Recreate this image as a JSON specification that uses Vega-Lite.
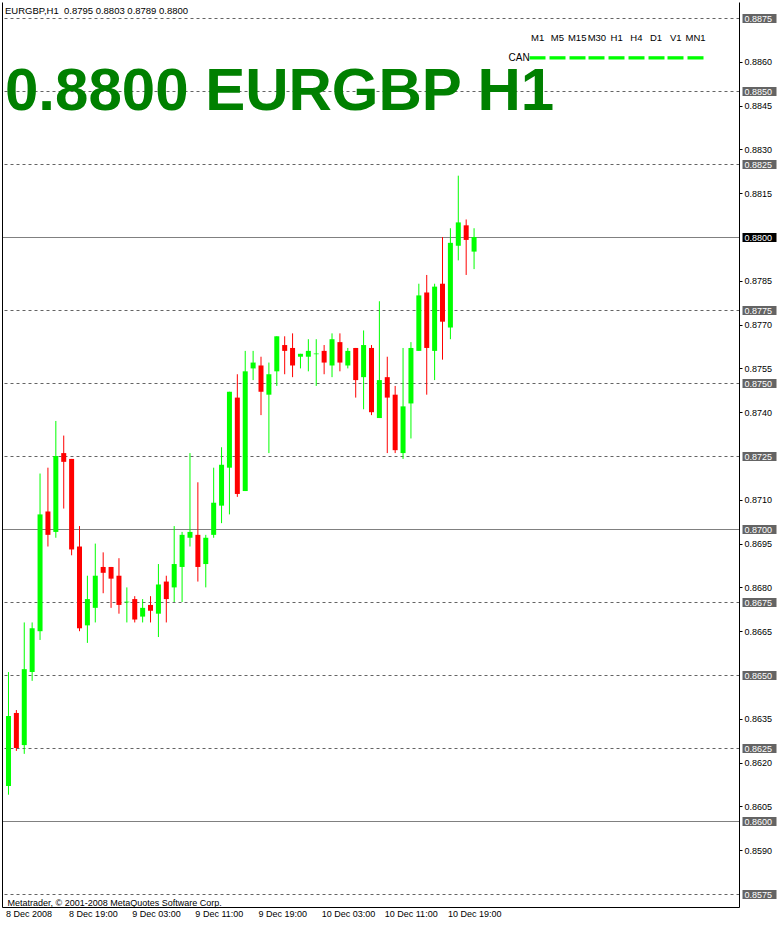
{
  "$schema": "https://vega.github.io/schema/vega-lite/v6.json",
  "width": 737,
  "height": 905,
  "autosize": {"type": "none"},
  "padding": {"left": 2, "top": 2, "right": 38, "bottom": 19},
  "background": "white",
  "config": {"view": {"stroke": null}, "font": "Liberation Sans"},
  "title": {
    "text": "EURGBP,H1\u00a0 0.8795 0.8803 0.8789 0.8800",
    "subtitle": "0.8800 EURGBP H1",
    "anchor": "start",
    "frame": "group",
    "orient": "top",
    "offset": -120,
    "dx": 3,
    "font": "Liberation Sans",
    "fontSize": 9.5,
    "fontWeight": "normal",
    "color": "black",
    "subtitleFont": "Liberation Sans",
    "subtitleFontSize": 60,
    "subtitleFontWeight": "bold",
    "subtitleColor": "#008000",
    "subtitlePadding": 48
  },
  "data": {"values": [
    {"t": "2008-12-08T11:00:00Z", "o": 0.8612, "h": 0.8651, "l": 0.8609, "c": 0.8636},
    {"t": "2008-12-08T12:00:00Z", "o": 0.8637, "h": 0.8638, "l": 0.8624, "c": 0.8625},
    {"t": "2008-12-08T13:00:00Z", "o": 0.8626, "h": 0.8668, "l": 0.8623, "c": 0.8652},
    {"t": "2008-12-08T14:00:00Z", "o": 0.8651, "h": 0.8668, "l": 0.8648, "c": 0.8666},
    {"t": "2008-12-08T15:00:00Z", "o": 0.8665, "h": 0.8719, "l": 0.8662, "c": 0.8705},
    {"t": "2008-12-08T16:00:00Z", "o": 0.8706, "h": 0.8721, "l": 0.8694, "c": 0.8698},
    {"t": "2008-12-08T17:00:00Z", "o": 0.8699, "h": 0.8737, "l": 0.8697, "c": 0.8725},
    {"t": "2008-12-08T18:00:00Z", "o": 0.8726, "h": 0.8732, "l": 0.8707, "c": 0.8723},
    {"t": "2008-12-08T19:00:00Z", "o": 0.8724, "h": 0.8724, "l": 0.8691, "c": 0.8693},
    {"t": "2008-12-08T20:00:00Z", "o": 0.8694, "h": 0.8701, "l": 0.8665, "c": 0.8666},
    {"t": "2008-12-08T21:00:00Z", "o": 0.8667, "h": 0.8684, "l": 0.8661, "c": 0.8676},
    {"t": "2008-12-08T22:00:00Z", "o": 0.8673, "h": 0.8695, "l": 0.8668, "c": 0.8684},
    {"t": "2008-12-08T23:00:00Z", "o": 0.8687, "h": 0.8692, "l": 0.8678, "c": 0.8685},
    {"t": "2008-12-09T00:00:00Z", "o": 0.8687, "h": 0.8687, "l": 0.8673, "c": 0.8683},
    {"t": "2008-12-09T01:00:00Z", "o": 0.8684, "h": 0.8690, "l": 0.8671, "c": 0.8674},
    {"t": "2008-12-09T02:00:00Z", "o": 0.8675, "h": 0.8680, "l": 0.8668, "c": 0.8675},
    {"t": "2008-12-09T03:00:00Z", "o": 0.8676, "h": 0.8677, "l": 0.8668, "c": 0.8669},
    {"t": "2008-12-09T04:00:00Z", "o": 0.8670, "h": 0.8676, "l": 0.8668, "c": 0.8673},
    {"t": "2008-12-09T05:00:00Z", "o": 0.8674, "h": 0.8677, "l": 0.8668, "c": 0.8672},
    {"t": "2008-12-09T06:00:00Z", "o": 0.8671, "h": 0.8688, "l": 0.8663, "c": 0.8681},
    {"t": "2008-12-09T07:00:00Z", "o": 0.8682, "h": 0.8684, "l": 0.8668, "c": 0.8676},
    {"t": "2008-12-09T08:00:00Z", "o": 0.8680, "h": 0.8701, "l": 0.8675, "c": 0.8688},
    {"t": "2008-12-09T09:00:00Z", "o": 0.8687, "h": 0.8699, "l": 0.8675, "c": 0.8698},
    {"t": "2008-12-09T10:00:00Z", "o": 0.8697, "h": 0.8726, "l": 0.8694, "c": 0.8699},
    {"t": "2008-12-09T11:00:00Z", "o": 0.8698, "h": 0.8716, "l": 0.8682, "c": 0.8687},
    {"t": "2008-12-09T12:00:00Z", "o": 0.8688, "h": 0.8698, "l": 0.8680, "c": 0.8697},
    {"t": "2008-12-09T13:00:00Z", "o": 0.8698, "h": 0.8721, "l": 0.8697, "c": 0.8709},
    {"t": "2008-12-09T14:00:00Z", "o": 0.8708, "h": 0.8728, "l": 0.8702, "c": 0.8722},
    {"t": "2008-12-09T15:00:00Z", "o": 0.8721, "h": 0.8747, "l": 0.8705, "c": 0.8747},
    {"t": "2008-12-09T16:00:00Z", "o": 0.8745, "h": 0.8753, "l": 0.8711, "c": 0.8712},
    {"t": "2008-12-09T17:00:00Z", "o": 0.8713, "h": 0.8761, "l": 0.8713, "c": 0.8754},
    {"t": "2008-12-09T18:00:00Z", "o": 0.8755, "h": 0.8761, "l": 0.8751, "c": 0.8757},
    {"t": "2008-12-09T19:00:00Z", "o": 0.8756, "h": 0.8759, "l": 0.8739, "c": 0.8747},
    {"t": "2008-12-09T20:00:00Z", "o": 0.8746, "h": 0.8757, "l": 0.8726, "c": 0.8753},
    {"t": "2008-12-09T21:00:00Z", "o": 0.8754, "h": 0.8766, "l": 0.8749, "c": 0.8766},
    {"t": "2008-12-09T22:00:00Z", "o": 0.8763, "h": 0.8766, "l": 0.8753, "c": 0.8761},
    {"t": "2008-12-09T23:00:00Z", "o": 0.8762, "h": 0.8767, "l": 0.8752, "c": 0.8756},
    {"t": "2008-12-10T00:00:00Z", "o": 0.8759, "h": 0.8760, "l": 0.8755, "c": 0.8760},
    {"t": "2008-12-10T01:00:00Z", "o": 0.8759, "h": 0.8765, "l": 0.8754, "c": 0.8761},
    {"t": "2008-12-10T02:00:00Z", "o": 0.8760, "h": 0.8765, "l": 0.8749, "c": 0.8760},
    {"t": "2008-12-10T03:00:00Z", "o": 0.8761, "h": 0.8763, "l": 0.8753, "c": 0.8757},
    {"t": "2008-12-10T04:00:00Z", "o": 0.8756, "h": 0.8767, "l": 0.8752, "c": 0.8765},
    {"t": "2008-12-10T05:00:00Z", "o": 0.8764, "h": 0.8767, "l": 0.8754, "c": 0.8757},
    {"t": "2008-12-10T06:00:00Z", "o": 0.8756, "h": 0.8762, "l": 0.8755, "c": 0.8761},
    {"t": "2008-12-10T07:00:00Z", "o": 0.8762, "h": 0.8762, "l": 0.8745, "c": 0.8751},
    {"t": "2008-12-10T08:00:00Z", "o": 0.8752, "h": 0.8768, "l": 0.8741, "c": 0.8763},
    {"t": "2008-12-10T09:00:00Z", "o": 0.8762, "h": 0.8763, "l": 0.8739, "c": 0.8740},
    {"t": "2008-12-10T10:00:00Z", "o": 0.8738, "h": 0.8778, "l": 0.8738, "c": 0.8751},
    {"t": "2008-12-10T11:00:00Z", "o": 0.8752, "h": 0.8759, "l": 0.8726, "c": 0.8745},
    {"t": "2008-12-10T12:00:00Z", "o": 0.8746, "h": 0.8749, "l": 0.8726, "c": 0.8727},
    {"t": "2008-12-10T13:00:00Z", "o": 0.8726, "h": 0.8762, "l": 0.8724, "c": 0.8742},
    {"t": "2008-12-10T14:00:00Z", "o": 0.8743, "h": 0.8764, "l": 0.8731, "c": 0.8762},
    {"t": "2008-12-10T15:00:00Z", "o": 0.8761, "h": 0.8784, "l": 0.8761, "c": 0.8780},
    {"t": "2008-12-10T16:00:00Z", "o": 0.8781, "h": 0.8787, "l": 0.8746, "c": 0.8762},
    {"t": "2008-12-10T17:00:00Z", "o": 0.8761, "h": 0.8784, "l": 0.8751, "c": 0.8783},
    {"t": "2008-12-10T18:00:00Z", "o": 0.8784, "h": 0.8800, "l": 0.8758, "c": 0.8771},
    {"t": "2008-12-10T19:00:00Z", "o": 0.8769, "h": 0.8803, "l": 0.8765, "c": 0.8798},
    {"t": "2008-12-10T20:00:00Z", "o": 0.8797, "h": 0.8821, "l": 0.8792, "c": 0.8805},
    {"t": "2008-12-10T21:00:00Z", "o": 0.8804, "h": 0.8806, "l": 0.8787, "c": 0.8799},
    {"t": "2008-12-10T22:00:00Z", "o": 0.8795, "h": 0.8803, "l": 0.8789, "c": 0.8800}
  ]},
  "layer": [
    {
      "mark": {"type": "rule", "strokeWidth": 1},
      "encoding": {
        "x": {
          "field": "t", "type": "temporal",
          "scale": {"type": "utc", "domain": [
            {"year": 2008, "month": 12, "date": 8, "hours": 10, "minutes": 48, "seconds": 45, "utc": true},
            {"year": 2008, "month": 12, "date": 12, "hours": 6, "minutes": 56, "seconds": 15, "utc": true}
          ]},
          "axis": {
            "orient": "bottom",
            "values": [
              {"year": 2008, "month": 12, "date": 8, "hours": 11, "utc": true},
              {"year": 2008, "month": 12, "date": 8, "hours": 19, "utc": true},
              {"year": 2008, "month": 12, "date": 9, "hours": 3, "utc": true},
              {"year": 2008, "month": 12, "date": 9, "hours": 11, "utc": true},
              {"year": 2008, "month": 12, "date": 9, "hours": 19, "utc": true},
              {"year": 2008, "month": 12, "date": 10, "hours": 3, "utc": true},
              {"year": 2008, "month": 12, "date": 10, "hours": 11, "utc": true},
              {"year": 2008, "month": 12, "date": 10, "hours": 19, "utc": true}
            ],
            "labelExpr": "utcFormat(datum.value, '%d %H') == '08 11' ? '8 Dec 2008' : utcFormat(datum.value, '%-d %b %H:%M')",
            "domain": true,
            "domainColor": "black",
            "domainWidth": 1,
            "grid": false,
            "ticks": false,
            "labelAlign": "left",
            "labelBaseline": "top",
            "labelOffset": -3,
            "labelPadding": 2,
            "labelFont": "Liberation Sans",
            "labelFontSize": 9,
            "labelColor": "black",
            "labelFlush": false,
            "labelOverlap": false,
            "labelBound": false,
            "title": "Metatrader, \u00a9 2001-2008 MetaQuotes Software Corp.",
            "titleX": 5,
            "titleY": -2,
            "titleAlign": "left",
            "titleBaseline": "alphabetic",
            "titleFont": "Liberation Sans",
            "titleFontSize": 9,
            "titleFontWeight": "normal",
            "titleColor": "black"
          }
        },
        "y": {
          "field": "l", "type": "quantitative",
          "scale": {"domain": [0.857055, 0.888048], "nice": false, "zero": false},
          "axis": {
            "orient": "right",
            "values": [0.8860, 0.8845, 0.8830, 0.8815, 0.8785, 0.8770, 0.8755, 0.8740, 0.8710, 0.8695, 0.8680, 0.8665, 0.8635, 0.8620, 0.8605, 0.8590],
            "format": ".4f",
            "domain": true,
            "domainColor": "black",
            "domainWidth": 1,
            "grid": false,
            "tickSize": 3,
            "tickColor": "black",
            "labelPadding": 2,
            "labelFont": "Liberation Sans",
            "labelFontSize": 9,
            "labelColor": "black",
            "labelOverlap": false,
            "labelFlush": false,
            "labelBound": false,
            "title": null
          }
        },
        "y2": {"field": "h"},
        "color": {"condition": {"test": "datum.c >= datum.o", "value": "#00ff00"}, "value": "#ff0000"}
      }
    },
    {
      "mark": {"type": "bar", "width": 5},
      "encoding": {
        "x": {
          "field": "t", "type": "temporal",
          "axis": {
            "orient": "top",
            "offset": -57,
            "values": [
              {"year": 2008, "month": 12, "date": 11, "hours": 6, "minutes": 0, "utc": true},
              {"year": 2008, "month": 12, "date": 11, "hours": 8, "minutes": 30, "utc": true},
              {"year": 2008, "month": 12, "date": 11, "hours": 11, "minutes": 0, "utc": true},
              {"year": 2008, "month": 12, "date": 11, "hours": 13, "minutes": 30, "utc": true},
              {"year": 2008, "month": 12, "date": 11, "hours": 16, "minutes": 0, "utc": true},
              {"year": 2008, "month": 12, "date": 11, "hours": 18, "minutes": 30, "utc": true},
              {"year": 2008, "month": 12, "date": 11, "hours": 21, "minutes": 0, "utc": true},
              {"year": 2008, "month": 12, "date": 11, "hours": 23, "minutes": 30, "utc": true},
              {"year": 2008, "month": 12, "date": 12, "hours": 2, "minutes": 0, "utc": true}
            ],
            "labelExpr": "({'110600': 'M1', '110830': 'M5', '111100': 'M15', '111330': 'M30', '111600': 'H1', '111830': 'H4', '112100': 'D1', '112330': 'V1', '120200': 'MN1'})[utcFormat(datum.value, '%d%H%M')]",
            "domain": false,
            "grid": false,
            "tickSize": 3.3,
            "tickWidth": 16,
            "tickColor": "#00ff00",
            "labelAlign": "center",
            "labelBaseline": "alphabetic",
            "labelPadding": 15.7,
            "labelFont": "Liberation Sans",
            "labelFontSize": 9.5,
            "labelColor": "black",
            "labelFlush": false,
            "labelOverlap": false,
            "labelBound": false,
            "title": "CAN",
            "titleX": 506,
            "titleY": 1.7,
            "titleAlign": "left",
            "titleBaseline": "alphabetic",
            "titleFont": "Liberation Sans",
            "titleFontSize": 10,
            "titleFontWeight": "normal",
            "titleColor": "black"
          }
        },
        "y": {
          "field": "o", "type": "quantitative",
          "axis": {
            "orient": "right",
            "offset": 3,
            "values": [0.8875, 0.8850, 0.8825, 0.8800, 0.8775, 0.8750, 0.8725, 0.8700, 0.8675, 0.8650, 0.8625, 0.8600, 0.8575],
            "format": ".4f",
            "domain": false,
            "grid": true,
            "gridColor": {"condition": {"test": "round(datum.value * 10000) % 100 == 0", "value": "#808080"}, "value": "#646464"},
            "gridDash": {"condition": {"test": "round(datum.value * 10000) % 100 == 0", "value": []}, "value": [3, 3]},
            "gridWidth": 1,
            "tickSize": 34,
            "tickWidth": 9,
            "tickColor": {"condition": {"test": "round(datum.value * 10000) == 8800", "value": "#000000"}, "value": "#646464"},
            "labelPadding": -32,
            "labelAlign": "left",
            "labelFont": "Liberation Sans",
            "labelFontSize": 9,
            "labelColor": "white",
            "labelOverlap": false,
            "labelFlush": false,
            "labelBound": false,
            "title": null
          }
        },
        "y2": {"field": "c"},
        "color": {"condition": {"test": "datum.c >= datum.o", "value": "#00ff00"}, "value": "#ff0000"}
      }
    },
    {
      "transform": [{"filter": "datum.o == datum.c"}],
      "mark": {"type": "tick", "thickness": 1, "size": 5, "orient": "horizontal"},
      "encoding": {
        "x": {"field": "t", "type": "temporal", "axis": null},
        "y": {
          "field": "c", "type": "quantitative",
          "axis": {"orient": "left", "domain": true, "domainColor": "black", "domainWidth": 1, "ticks": false, "labels": false, "grid": false, "title": null}
        },
        "color": {"value": "#00ff00"}
      }
    }
  ],
  "resolve": {"axis": {"x": "independent", "y": "independent"}}
}
